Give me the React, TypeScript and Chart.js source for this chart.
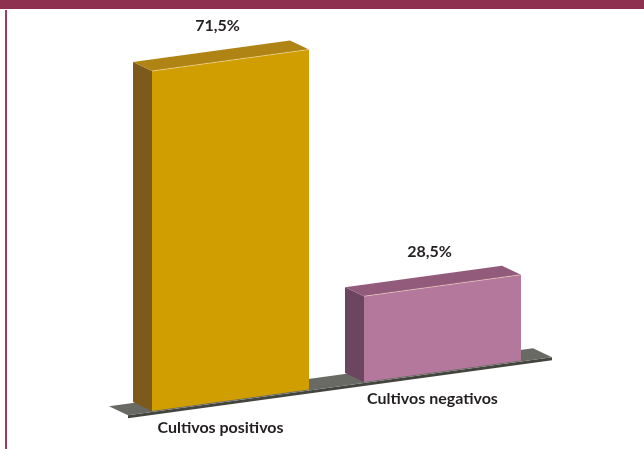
import React, { useEffect, useRef } from "react";
import { Chart, registerables } from "chart.js";

Chart.register(...registerables);

const categories = ["Cultivos positivos", "Cultivos negativos"];
const values = [71.5, 28.5];
const valueLabels = ["71,5%", "28,5%"];
const frontColors = ["#D09E00", "#B4789C"];
const topColors = ["#B08414", "#935B7B"];
const sideColors = ["#7B5A1C", "#6C4560"];

const SHEAR = -0.137;
const DEPTH_X = -19;
const DEPTH_Y = -9;
const FONT = "bold 16px Lato, 'Open Sans', sans-serif";

const box3dPlugin = {
  id: "box3d",
  beforeDatasetsDraw(chart: any) {
    const { ctx, chartArea } = chart;
    const yScale = chart.scales.y;
    const xr = chartArea.left + 27.5;
    const P = (x: number, u: number): [number, number] => [x, u + SHEAR * (x - xr)];
    const D = (p: [number, number]): [number, number] => [p[0] + DEPTH_X, p[1] + DEPTH_Y];
    const poly = (pts: [number, number][], fill: string) => {
      ctx.beginPath();
      ctx.moveTo(pts[0][0], pts[0][1]);
      for (let i = 1; i < pts.length; i++) ctx.lineTo(pts[i][0], pts[i][1]);
      ctx.closePath();
      ctx.fillStyle = fill;
      ctx.fill();
    };
    ctx.save();
    const meta = chart.getDatasetMeta(0);
    const base = yScale.getPixelForValue(yScale.min);
    // floor slab
    const FL = P(chartArea.left + 3.5, base + 1);
    const FR = P(chartArea.right + 3.5, base + 1);
    poly([FL, FR, [FR[0], FR[1] + 3], [FL[0], FL[1] + 3]], "#45453f");
    poly([FL, FR, D(FR), D(FL)], "#6a6a64");

    meta.data.forEach((el: any, i: number) => {
      const { x, width } = el.getProps(["x", "width"], true);
      const y = yScale.getPixelForValue(values[i]);
      const l = x - width / 2;
      const r = x + width / 2;
      const FTL = P(l, y), FTR = P(r, y), FBL = P(l, base), FBR = P(r, base);
      poly([FTL, D(FTL), D(FBL), FBL], sideColors[i]);
      poly([FTL, FTR, D(FTR), D(FTL)], topColors[i]);
      poly([FTL, FTR, FBR, FBL], frontColors[i]);
      ctx.beginPath();
      ctx.moveTo(FTL[0], FTL[1]);
      ctx.lineTo(FTR[0], FTR[1]);
      ctx.strokeStyle = "rgba(255,235,200,0.45)";
      ctx.lineWidth = 1;
      ctx.stroke();

      ctx.fillStyle = "#231f20";
      ctx.font = FONT;
      ctx.textAlign = "center";
      ctx.textBaseline = "middle";
      const top = P(x, y);
      ctx.fillText(valueLabels[i], x - 13, top[1] - 34);
      const bot = P(x, base);
      ctx.fillText(String(chart.data.labels[i]), x - 10, bot[1] + 28);
    });
    ctx.restore();
    return false;
  },
};

export default function App() {
  const ref = useRef<HTMLCanvasElement | null>(null);
  useEffect(() => {
    if (!ref.current) return;
    const chart = new Chart(ref.current, {
      type: "bar",
      data: {
        labels: categories,
        datasets: [
          {
            data: values,
            backgroundColor: "rgba(0,0,0,0)",
            borderWidth: 0,
            categoryPercentage: 1,
            barPercentage: 0.7406,
          },
        ],
      },
      options: {
        responsive: false,
        animation: false,
        devicePixelRatio: 1,
        layout: { padding: { left: 124.5, right: 95.5, top: 71, bottom: 38 } },
        plugins: { legend: { display: false }, tooltip: { enabled: false }, title: { display: false } },
        scales: {
          x: { display: false },
          y: { display: false, min: 14, max: 71.5 },
        },
      },
      plugins: [box3dPlugin],
    });
    return () => chart.destroy();
  }, []);
  return (
    <div style={{ position: "fixed", left: 0, top: 0, width: 644, height: 449, background: "#fff" }}>
      <canvas ref={ref} width={644} height={449} style={{ position: "absolute", left: 0, top: 0 }} />
      <div style={{ position: "absolute", left: 0, top: 0, width: 644, height: 9, background: "#8E3050" }} />
      <div style={{ position: "absolute", left: 5, top: 10, width: 2, height: 439, background: "#9E3A60" }} />
    </div>
  );
}
